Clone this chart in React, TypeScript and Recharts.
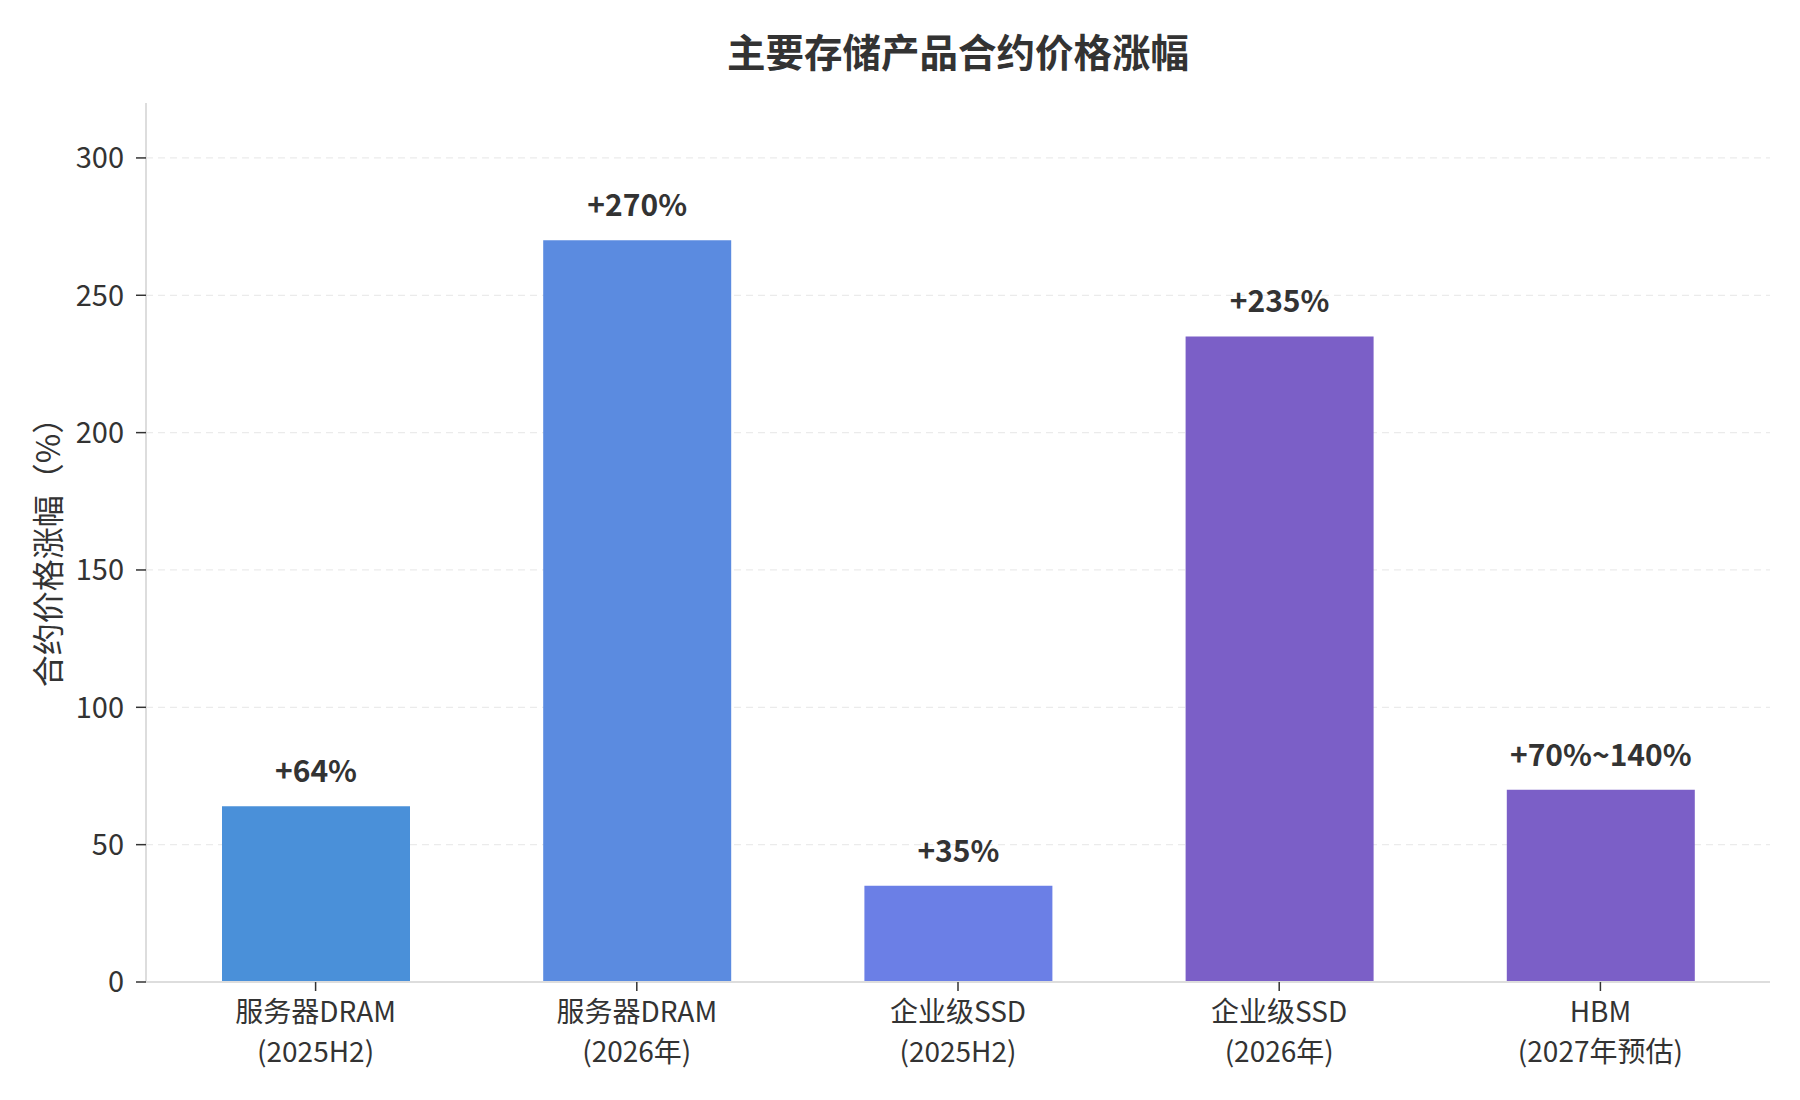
import { BarChart, Bar, XAxis, YAxis, CartesianGrid, Cell, LabelList, Label } from "recharts";

const categories = [
  "服务器DRAM\n(2025H2)",
  "服务器DRAM\n(2026年)",
  "企业级SSD\n(2025H2)",
  "企业级SSD\n(2026年)",
  "HBM\n(2027年预估)",
];
const increases = [64, 270, 35, 235, 70];
const valueLabels = ["+64%", "+270%", "+35%", "+235%", "+70%~140%"];
const yTicks = [0, 50, 100, 150, 200, 250, 300];

const palette = ["#4A90D9", "#5B8BE0", "#6B7FE6", "#7B5FC7", "#7B5FC7"];
const FONT = "'Noto Sans CJK SC', 'Noto Sans', sans-serif";

const data = categories.map((name, i) => ({
  name,
  value: increases[i],
  label: valueLabels[i],
}));

function CategoryTick({ x, y, payload }: any) {
  const lines = String(payload.value).split("\n");
  return (
    <g>
      {lines.map((line, i) => (
        <text
          key={i}
          x={x}
          y={y + 29 + i * 40}
          textAnchor="middle"
          fill="#333"
          fontSize={28}
          fontFamily={FONT}
        >
          {line}
        </text>
      ))}
    </g>
  );
}

function YTitle({ viewBox }: any) {
  const cy = viewBox.y + viewBox.height / 2 + 2;
  const cx = 46;
  return (
    <text
      x={cx}
      y={cy}
      transform={`rotate(-90 ${cx} ${cy})`}
      textAnchor="middle"
      dominantBaseline="central"
      fill="#333"
      fontSize={32}
      fontFamily={FONT}
    >
      合约价格涨幅（%）
    </text>
  );
}

export default function App() {
  return (
    <div style={{ position: "absolute", left: 0, top: 0, width: 1800, height: 1100, background: "#fff", fontFamily: FONT }}>
      <div
        style={{
          position: "absolute",
          left: 146,
          width: 1624,
          top: 24,
          textAlign: "center",
          fontSize: 38.5,
          fontWeight: "bold",
          color: "#333",
          lineHeight: "52px",
        }}
      >
        主要存储产品合约价格涨幅
      </div>
      <BarChart
        width={1800}
        height={1100}
        data={data}
        margin={{ top: 103, right: 30, bottom: 18, left: 0 }}
      >
        <CartesianGrid
          vertical={false}
          horizontalValues={yTicks.slice(1)}
          stroke="#ebebeb"
          strokeDasharray="7 5"
          strokeWidth={1.2}
        />
        <XAxis
          dataKey="name"
          interval={0}
          height={100}
          padding={{ left: 9, right: 9 }}
          axisLine={{ stroke: "#dddddd", strokeWidth: 2 }}
          tickLine={{ stroke: "#333", strokeWidth: 1.5 }}
          tickSize={9}
          tickMargin={2}
          tick={<CategoryTick />}
        />
        <YAxis
          width={146}
          domain={[0, 320]}
          ticks={yTicks}
          allowDataOverflow
          axisLine={{ stroke: "#dddddd", strokeWidth: 2 }}
          tickLine={{ stroke: "#333", strokeWidth: 1.5 }}
          tickSize={10}
          tickMargin={12}
          tick={{ fill: "#333", fontSize: 29, fontFamily: FONT }}
        >
          <Label content={<YTitle />} />
        </YAxis>
        <Bar dataKey="value" barSize={188} isAnimationActive={false}>
          {data.map((d, i) => (
            <Cell key={d.name} fill={palette[i]} />
          ))}
          <LabelList
            dataKey="label"
            position="top"
            offset={24}
            fill="#333"
            fontSize={30}
            fontWeight="bold"
            fontFamily={FONT}
          />
        </Bar>
      </BarChart>
    </div>
  );
}
